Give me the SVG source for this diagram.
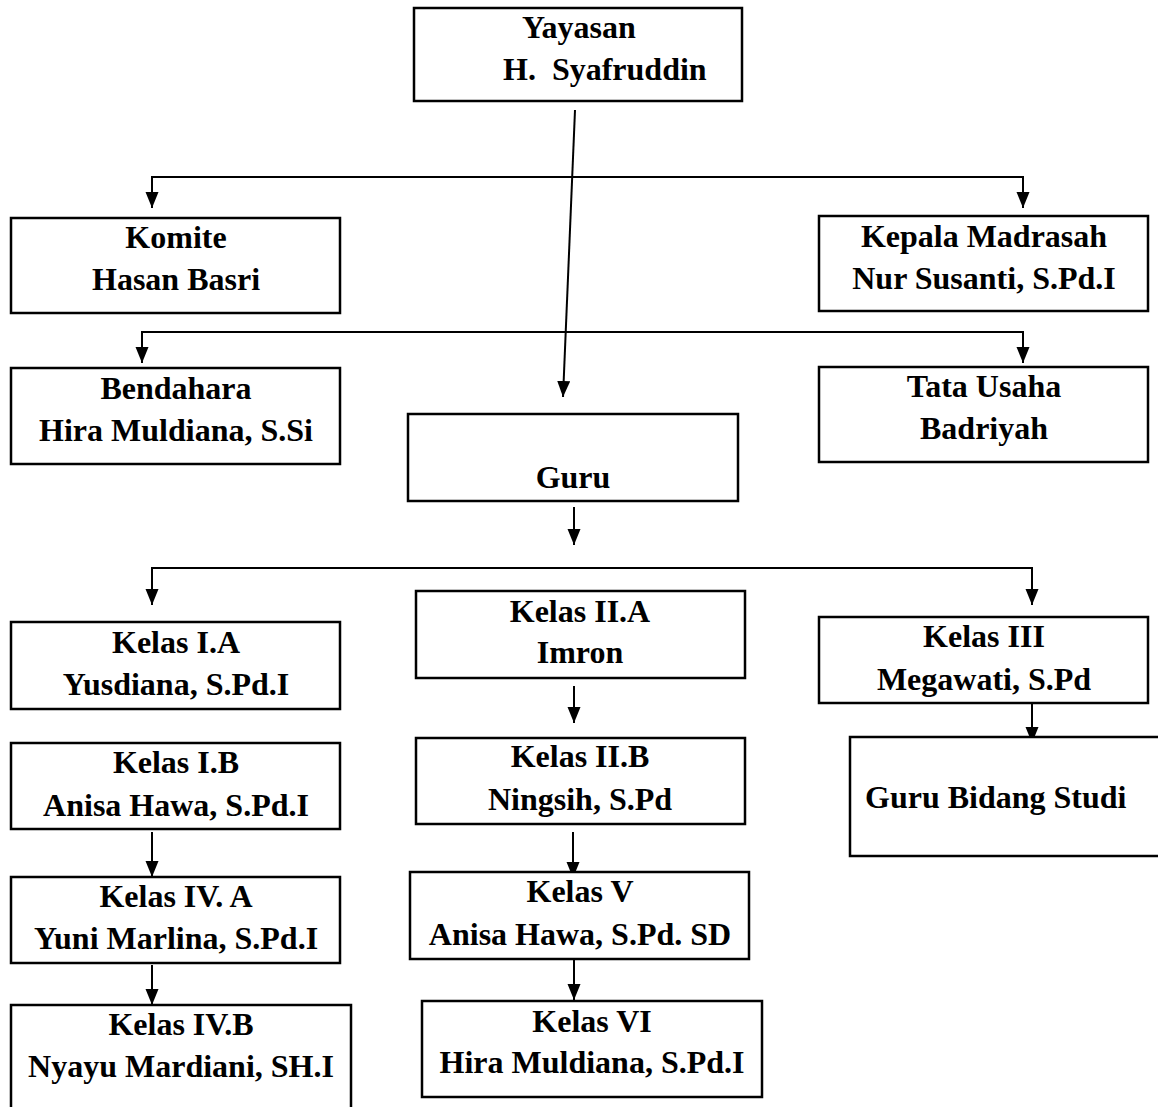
<svg xmlns="http://www.w3.org/2000/svg" width="1158" height="1107" viewBox="0 0 1158 1107">
<style>
.box{fill:#fff;stroke:#000;stroke-width:2.5}
.t{font-family:"Liberation Serif","Times New Roman",serif;font-weight:bold;font-size:32px;fill:#000;text-anchor:middle;white-space:pre}
.s{text-anchor:start}
.c{fill:none;stroke:#000;stroke-width:2}
</style>
<defs>
<marker id="ah" markerUnits="userSpaceOnUse" markerWidth="17" markerHeight="15" refX="16" refY="6.5" orient="auto">
<path d="M0,0 L16,6.5 L0,13 z" fill="#000"/>
</marker>
</defs>
<rect width="1158" height="1107" fill="#fff"/>
<g id="connectors">
<path class="c" d="M575,110 L563,397" marker-end="url(#ah)"/>
<path class="c" d="M152,177 L1023,177"/>
<path class="c" d="M152,176 L152,208" marker-end="url(#ah)"/>
<path class="c" d="M1023,176 L1023,208" marker-end="url(#ah)"/>
<path class="c" d="M142,332 L1023,332"/>
<path class="c" d="M142,331 L142,363" marker-end="url(#ah)"/>
<path class="c" d="M1023,331 L1023,363" marker-end="url(#ah)"/>
<path class="c" d="M574,507 L574,545" marker-end="url(#ah)"/>
<path class="c" d="M152,568 L1032,568"/>
<path class="c" d="M152,567 L152,605" marker-end="url(#ah)"/>
<path class="c" d="M1032,567 L1032,605" marker-end="url(#ah)"/>
<path class="c" d="M574,686 L574,723" marker-end="url(#ah)"/>
<path class="c" d="M1032,695 L1032,743" marker-end="url(#ah)"/>
<path class="c" d="M152,832 L152,877" marker-end="url(#ah)"/>
<path class="c" d="M152,965 L152,1005" marker-end="url(#ah)"/>
<path class="c" d="M573,832 L573,878" marker-end="url(#ah)"/>
<path class="c" d="M574,955 L574,1000" marker-end="url(#ah)"/>
</g>
<g id="yayasan">
<rect class="box" x="414" y="8" width="328" height="93"/>
<text class="t s" x="522" y="38">Yayasan</text>
<text class="t s" x="503" y="80">H.  Syafruddin</text>
</g>
<g id="komite">
<rect class="box" x="11" y="218" width="329" height="95"/>
<text class="t" x="176" y="248">Komite</text>
<text class="t" x="176" y="290">Hasan Basri</text>
</g>
<g id="kepala">
<rect class="box" x="819" y="216" width="329" height="95"/>
<text class="t" x="984" y="247">Kepala Madrasah</text>
<text class="t" x="984" y="289">Nur Susanti, S.Pd.I</text>
</g>
<g id="bendahara">
<rect class="box" x="11" y="368" width="329" height="96"/>
<text class="t" x="176" y="399">Bendahara</text>
<text class="t" x="176" y="441">Hira Muldiana, S.Si</text>
</g>
<g id="tatausaha">
<rect class="box" x="819" y="367" width="329" height="95"/>
<text class="t" x="984" y="397">Tata Usaha</text>
<text class="t" x="984" y="439">Badriyah</text>
</g>
<g id="guru">
<rect class="box" x="408" y="414" width="330" height="87"/>
<text class="t" x="573" y="488">Guru</text>
</g>
<g id="kelas1a">
<rect class="box" x="11" y="622" width="329" height="87"/>
<text class="t" x="176" y="653">Kelas I.A</text>
<text class="t" x="176" y="695">Yusdiana, S.Pd.I</text>
</g>
<g id="kelas2a">
<rect class="box" x="416" y="591" width="329" height="87"/>
<text class="t" x="580" y="622">Kelas II.A</text>
<text class="t" x="580" y="663">Imron</text>
</g>
<g id="kelas3">
<rect class="box" x="819" y="617" width="329" height="86"/>
<text class="t" x="984" y="647">Kelas III</text>
<text class="t" x="984" y="690">Megawati, S.Pd</text>
</g>
<g id="kelas1b">
<rect class="box" x="11" y="743" width="329" height="86"/>
<text class="t" x="176" y="773">Kelas I.B</text>
<text class="t" x="176" y="816">Anisa Hawa, S.Pd.I</text>
</g>
<g id="kelas2b">
<rect class="box" x="416" y="738" width="329" height="86"/>
<text class="t" x="580" y="767">Kelas II.B</text>
<text class="t" x="580" y="810">Ningsih, S.Pd</text>
</g>
<g id="gurubidang">
<rect class="box" x="850" y="737" width="330" height="119"/>
<text class="t s" x="865" y="808">Guru Bidang Studi</text>
</g>
<g id="kelas4a">
<rect class="box" x="11" y="877" width="329" height="86"/>
<text class="t" x="176" y="907">Kelas IV. A</text>
<text class="t" x="176" y="949">Yuni Marlina, S.Pd.I</text>
</g>
<g id="kelas5">
<rect class="box" x="410" y="872" width="339" height="87"/>
<text class="t" x="580" y="902">Kelas V</text>
<text class="t" x="580" y="945">Anisa Hawa, S.Pd. SD</text>
</g>
<g id="kelas4b">
<rect class="box" x="11" y="1005" width="340" height="115"/>
<text class="t" x="181" y="1035">Kelas IV.B</text>
<text class="t" x="181" y="1077">Nyayu Mardiani, SH.I</text>
</g>
<g id="kelas6">
<rect class="box" x="422" y="1001" width="340" height="96"/>
<text class="t" x="592" y="1032">Kelas VI</text>
<text class="t" x="592" y="1073">Hira Muldiana, S.Pd.I</text>
</g>
</svg>
